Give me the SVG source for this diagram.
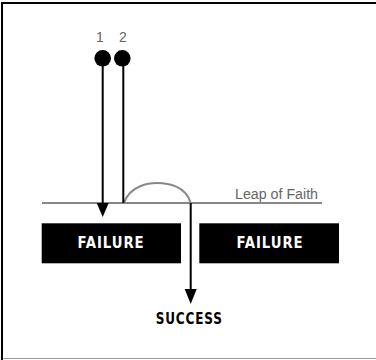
<svg xmlns="http://www.w3.org/2000/svg" width="376" height="360" viewBox="0 0 376 360">
<style>
.lbl{font-family:"Liberation Sans",Arial,sans-serif;font-size:14px;fill:#666}
.box{fill:#000}
.bt{font-family:"DejaVu Sans Condensed","DejaVu Sans",sans-serif;font-weight:bold;font-size:16px;letter-spacing:1px}
.ln{stroke:#000;stroke-width:2;fill:none}
.gl{stroke:#888;stroke-width:2;fill:none}
</style>
<rect x="0" y="0" width="376" height="360" fill="#fff"/>
<path d="M2,360 L2,3 L376,3" stroke="#000" stroke-width="2" fill="none"/>
<line x1="3" y1="358.5" x2="376" y2="358.5" stroke="#999" stroke-width="1"/>
<g id="connectors">
<line class="gl" x1="42" y1="203" x2="322" y2="203"/>
<path class="gl" d="M124,203 C130,185 150,183 157,183 C168,183 186,186 190.7,203"/>
<line class="ln" x1="102.7" y1="60" x2="102.7" y2="203"/>
<path d="M96.7,203 L108.7,203 L102.7,217 Z" fill="#000"/>
<line class="ln" x1="123.3" y1="60" x2="123.3" y2="203"/>
<line class="ln" x1="190.7" y1="203" x2="190.7" y2="290"/>
<path d="M184.7,289 L196.7,289 L190.7,304 Z" fill="#000"/>
</g>
<g id="start1">
<circle cx="102.7" cy="58.3" r="8.3" fill="#000"/>
<text class="lbl" x="100" y="41.5" text-anchor="middle">1</text>
</g>
<g id="start2">
<circle cx="122.3" cy="58.3" r="8.3" fill="#000"/>
<text class="lbl" x="123" y="41.5" text-anchor="middle">2</text>
</g>
<g id="leap">
<text class="lbl" x="235" y="199" textLength="83" lengthAdjust="spacingAndGlyphs">Leap of Faith</text>
</g>
<g id="failure1">
<rect class="box" x="41.7" y="223.3" width="139.3" height="40"/>
<text class="bt" x="77.5" y="247.5" fill="#fff" textLength="67" lengthAdjust="spacingAndGlyphs">FAILURE</text>
</g>
<g id="failure2">
<rect class="box" x="199.3" y="223.3" width="139.7" height="40"/>
<text class="bt" x="236.5" y="247.5" fill="#fff" textLength="67" lengthAdjust="spacingAndGlyphs">FAILURE</text>
</g>
<g id="success">
<text class="bt" x="155.7" y="324.3" fill="#000" textLength="67" lengthAdjust="spacingAndGlyphs">SUCCESS</text>
</g>
</svg>
